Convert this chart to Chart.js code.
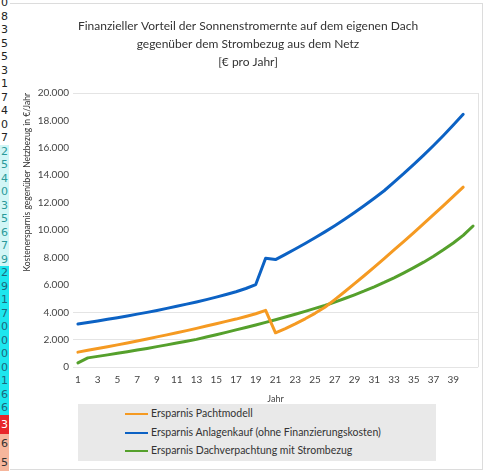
<!DOCTYPE html>
<html>
<head>
<meta charset="utf-8">
<script src="https://cdn.jsdelivr.net/npm/chart.js@4"></script>
<style>
  html, body { margin: 0; padding: 0; background: #fff; overflow: hidden; }
  body { width: 489px; height: 471px; position: relative; font-family: Lato, sans-serif; }
  #frame { position: absolute; left: 10px; top: 3px; width: 472px; height: 465px;
           border-top: 1px solid #dcdcdc; border-right: 1px solid #dcdcdc; border-bottom: 1px solid #dcdcdc; }
  #wrap { position: absolute; left: 18px; top: 0; width: 484px; height: 404px; }
  #strip { position: absolute; left: 0; top: 0; width: 9px; height: 471px; overflow: hidden; }
  #strip div { text-align: right; font: 11px "DejaVu Sans", sans-serif; padding-right: 1px; color: #222; }
  #legend { position: absolute; left: 78px; top: 404px; width: 358px; height: 57px; background: #e9e9e9; }
  #legend .item { position: absolute; left: 47px; height: 14px; font-size: 10.5px; color: #333; white-space: nowrap; }
  #legend .swatch { display: inline-block; width: 23px; height: 2px; vertical-align: middle; margin-right: 3px; }
</style>
</head>
<body>
<div id="frame"></div>
<div id="strip"></div>
<div id="wrap"><canvas id="chart" width="484" height="404"></canvas></div>
<div id="legend"></div>
<script>
// Jahre (Kategorien)
const years = [1, 2, 3, 4, 5, 6, 7, 8, 9, 10, 11, 12, 13, 14, 15, 16, 17, 18, 19, 20,
  21, 22, 23, 24, 25, 26, 27, 28, 29, 30, 31, 32, 33, 34, 35, 36, 37, 38, 39, 40, 41];
const xTickValues = [1, 3, 5, 7, 9, 11, 13, 15, 17, 19, 21, 23, 25, 27, 29, 31, 33, 35, 37, 39];
const yTickValues = [0, 2000, 4000, 6000, 8000, 10000, 12000, 14000, 16000, 18000, 20000];

// Ersparnis Pachtmodell (Jahr 1..40)
const pachtmodell = [1100, 1230, 1360, 1490, 1630, 1770, 1910, 2060, 2210, 2360,
  2510, 2670, 2830, 3000, 3170, 3340, 3510, 3700, 3900, 4150,
  2510, 2820, 3160, 3530, 3930, 4370, 4930, 5500, 6090, 6690,
  7300, 7920, 8550, 9180, 9820, 10470, 11130, 11790, 12460, 13130];
// Ersparnis Anlagenkauf (Jahr 1..40)
const anlagenkauf = [3150, 3260, 3370, 3490, 3610, 3740, 3870, 4000, 4140, 4290,
  4440, 4600, 4760, 4930, 5110, 5300, 5500, 5740, 6030, 7950,
  7850, 8230, 8620, 9020, 9440, 9870, 10320, 10790, 11280, 11790,
  12320, 12870, 13500, 14130, 14790, 15470, 16170, 16900, 17660, 18450];
// Ersparnis Dachverpachtung mit Strombezug (Jahr 1..41)
const dachverpachtung = [320, 680, 790, 900, 1010, 1130, 1250, 1370, 1500, 1630,
  1760, 1890, 2030, 2200, 2370, 2540, 2720, 2900, 3080, 3270,
  3460, 3660, 3860, 4070, 4290, 4500, 4750, 5010, 5280, 5560,
  5860, 6180, 6520, 6880, 7260, 7660, 8090, 8560, 9060, 9620, 10300];

const seriesLabels = ['Ersparnis Pachtmodell', 'Ersparnis Anlagenkauf (ohne Finanzierungskosten)', 'Ersparnis Dachverpachtung mit Strombezug'];
const seriesColors = ['#f59a22', '#0c62c4', '#55a02c'];
const titleLines = ['Finanzieller Vorteil der Sonnenstromernte auf dem eigenen Dach', 'gegenüber dem Strombezug aus dem Netz', '[€ pro Jahr]'];

// Tabellenrest am linken Rand
const stripDigits = ['0','8','3','5','5','3','1','7','4','0','7','2','5','4','0','3','5','6','7','9','2','9','1','7','0','0','0','0','1','6','6','3','6','5'];

const strip = document.getElementById('strip');
stripDigits.forEach((d, i) => {
  const el = document.createElement('div');
  el.textContent = d;
  const h = i < 31 ? 13.5 : 19;
  el.style.height = h + 'px';
  el.style.lineHeight = h + 'px';
  if (i === 0) { el.style.marginTop = '-4px'; }
  if (i >= 11 && i < 20) { el.style.background = '#d2f6f6'; el.style.color = '#2a9a9a'; }
  else if (i >= 20 && i < 31) { el.style.background = '#1ee6ee'; el.style.color = '#1a6a80'; }
  else if (i === 31) { el.style.background = '#e8262a'; el.style.color = '#fff'; }
  else if (i > 31) { el.style.background = '#f6b69c'; el.style.color = '#333'; }
  strip.appendChild(el);
});

const toPoints = vals => vals.map((v, i) => ({ x: years[i], y: v }));
const fmt = v => String(v).replace(/\B(?=(\d{3})+(?!\d))/g, '.');
const gridShown = [0, 2000, 4000, 20000];

// rechter Rand der Zeichenfläche
const plotFrame = {
  id: 'plotFrame',
  afterDraw(chart) {
    const a = chart.chartArea;
    const ctx = chart.ctx;
    ctx.save();
    ctx.strokeStyle = '#e2e2e2';
    ctx.lineWidth = 1;
    ctx.beginPath();
    ctx.moveTo(Math.round(a.right) + 0.5, a.top);
    ctx.lineTo(Math.round(a.right) + 0.5, a.bottom);
    ctx.stroke();
    ctx.restore();
  }
};

const datasets = [pachtmodell, anlagenkauf, dachverpachtung].map((vals, i) => ({
  label: seriesLabels[i],
  data: toPoints(vals),
  borderColor: seriesColors[i],
  backgroundColor: seriesColors[i],
  borderWidth: 3,
  pointRadius: 0,
  tension: 0,
  borderJoinStyle: 'round',
  borderCapStyle: 'round'
}));

const chart = new Chart(document.getElementById('chart'), {
  type: 'line',
  data: { datasets },
  options: {
    responsive: false,
    animation: false,
    devicePixelRatio: 1,
    layout: { padding: { left: 0, right: 24, top: 0, bottom: 0 } },
    plugins: {
      legend: { display: false },
      tooltip: { enabled: false },
      title: {
        display: true,
        text: titleLines,
        color: '#333',
        font: { family: 'Lato', size: 12, weight: 'normal', lineHeight: 1.5 },
        padding: { top: 17, bottom: 22 }
      }
    },
    scales: {
      x: {
        type: 'linear',
        min: 0.5,
        max: 41.5,
        afterBuildTicks: s => { s.ticks = xTickValues.map(v => ({ value: v })); },
        grid: { display: false, drawTicks: false },
        border: { display: false },
        ticks: { color: '#444', font: { family: 'Lato', size: 10 }, padding: 7, maxRotation: 0, autoSkip: false },
        title: { display: true, text: 'Jahr', color: '#444', font: { family: 'Lato', size: 9 }, padding: { top: 0, bottom: 0 } }
      },
      y: {
        min: 0,
        max: 20000,
        afterBuildTicks: s => { s.ticks = yTickValues.map(v => ({ value: v })); },
        afterFit: s => { s.width = 55; },
        grid: {
          drawTicks: false,
          color: c => gridShown.includes(c.tick && c.tick.value) ? '#e4e4e4' : 'rgba(0,0,0,0)'
        },
        border: { display: false },
        ticks: { color: '#444', font: { family: 'Lato', size: 10 }, padding: 4, callback: v => fmt(v) },
        title: {
          display: true,
          text: 'Kostenersparnis gegenüber Netzbezug in €/Jahr',
          color: '#333',
          align: 'end',
          font: { family: 'Lato', size: 8.5 },
          padding: { top: 4, bottom: 0 }
        }
      }
    }
  },
  plugins: [plotFrame]
});

// Legende
const legend = document.getElementById('legend');
chart.data.datasets.forEach((ds, i) => {
  const item = document.createElement('div');
  item.className = 'item';
  item.style.top = (3 + i * 18.5) + 'px';
  const sw = document.createElement('span');
  sw.className = 'swatch';
  sw.style.background = ds.borderColor;
  item.appendChild(sw);
  item.appendChild(document.createTextNode(ds.label));
  legend.appendChild(item);
});
</script>
</body>
</html>
